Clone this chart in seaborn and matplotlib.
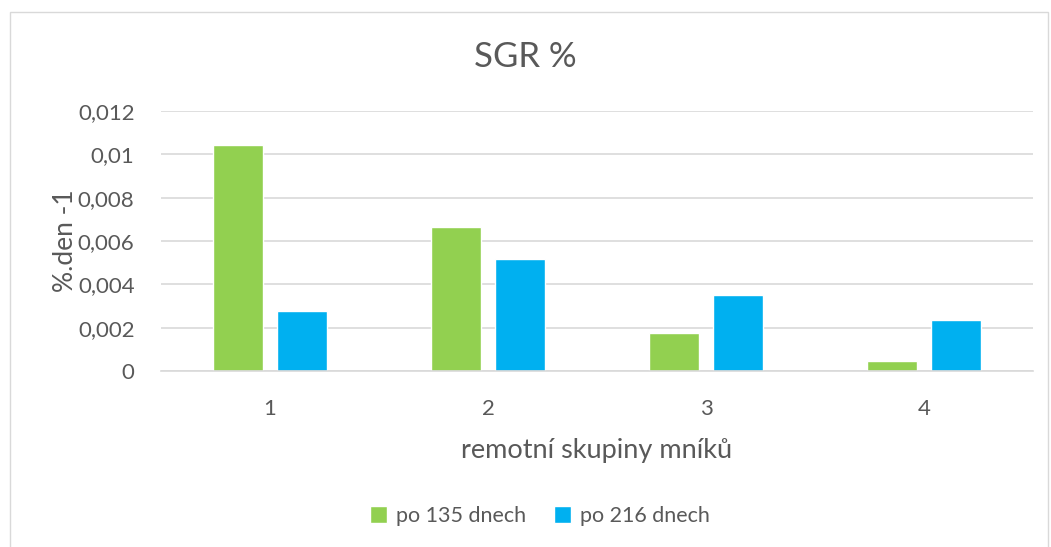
import matplotlib
matplotlib.use("Agg")
import matplotlib.pyplot as plt
import seaborn as sns
import pandas as pd
from matplotlib.patches import Rectangle
from matplotlib.ticker import FuncFormatter, MultipleLocator

categories = ["1", "2", "3", "4"]
series_names = ["po 135 dnech", "po 216 dnech"]
values_135 = [0.01043, 0.00665, 0.00177, 0.00046]
values_216 = [0.00277, 0.00516, 0.00351, 0.00234]
colors = ["#92D050", "#00B0F0"]

df = pd.DataFrame({
    "skupina": categories * 2,
    "serie": [series_names[0]] * 4 + [series_names[1]] * 4,
    "hodnota": values_135 + values_216,
})

sns.set_theme(style="white")
plt.rcParams["font.family"] = ["Lato", "DejaVu Sans"]
txt = "#595959"

fig = plt.figure(figsize=(10.51, 5.47), dpi=100)
fig.patches.append(Rectangle((10 / 1051, -0.01), 1038 / 1051, (547 - 12) / 547 + 0.01,
                             transform=fig.transFigure, fill=False,
                             edgecolor="#d9d9d9", linewidth=1.0))
ax = fig.add_axes([161 / 1051, 1 - 371 / 547, 872 / 1051, 260 / 547])

sns.barplot(data=df, x="skupina", y="hodnota", hue="serie", palette=colors,
            width=0.58, gap=0.21, ax=ax, saturation=1, legend=True)

ax.set_ylim(0, 0.012)
ax.set_xlim(-0.5, 3.5)
ax.yaxis.set_major_locator(MultipleLocator(0.002))
ax.yaxis.set_major_formatter(FuncFormatter(lambda v, p: f"{round(v, 6):g}".replace(".", ",")))
ax.grid(axis="y", color="#d9d9d9", linewidth=1.2)
ax.set_axisbelow(True)
for s in ["top", "right", "left"]:
    ax.spines[s].set_visible(False)
ax.spines["bottom"].set_color("#d9d9d9")
ax.spines["bottom"].set_linewidth(1.2)
ax.tick_params(axis="both", length=0, labelsize=16, colors=txt)
ax.tick_params(axis="y", pad=19)
ax.tick_params(axis="x", pad=20)

ax.set_xlabel("remotní skupiny mníků", fontsize=19.5, color=txt, labelpad=14)
ax.set_ylabel("%.den -1", fontsize=19, color=txt, labelpad=0)
fig.text(0.5, 1 - 57 / 547, "SGR %", ha="center", va="center", fontsize=25, color=txt)

handles, labels = ax.get_legend_handles_labels()
ax.legend_.remove()
fig.legend(handles, labels, loc="center", bbox_to_anchor=(540 / 1051, 1 - 516 / 547),
           ncol=2, frameon=False, fontsize=15.5, labelcolor=txt,
           handlelength=0.8, handleheight=0.8, handletextpad=0.4, columnspacing=1.3)

fig.savefig("out.png", dpi=100)
